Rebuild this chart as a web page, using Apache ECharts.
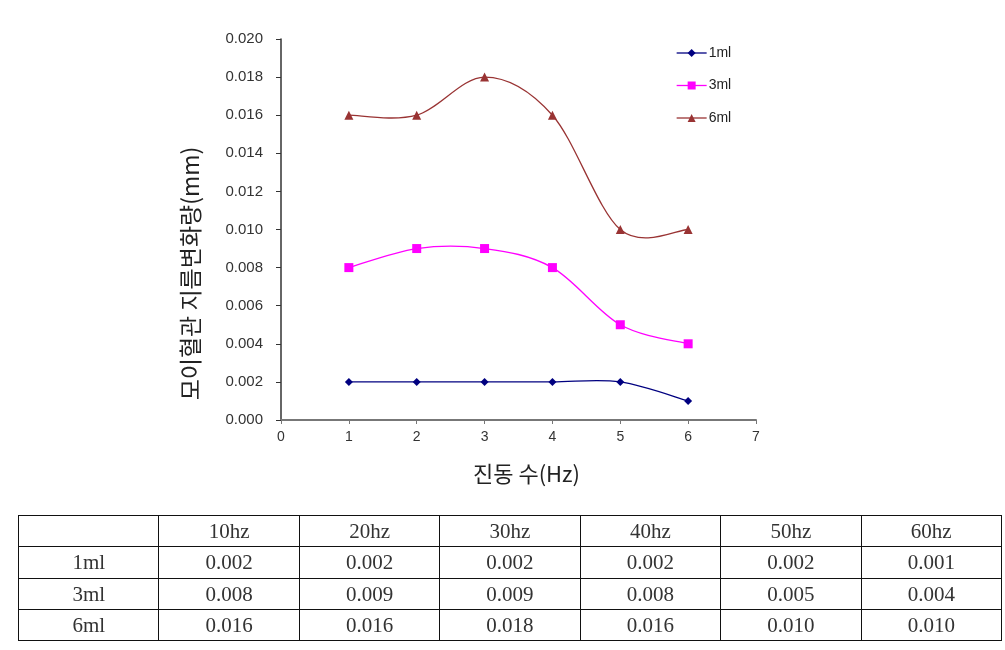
<!DOCTYPE html>
<html>
<head>
<meta charset="utf-8">
<script src="https://cdn.jsdelivr.net/npm/echarts@6/dist/echarts.min.js"></script>
<style>
html,body{margin:0;padding:0;background:#fff;}
#chart{position:absolute;left:0;top:0;width:1005px;height:650px;}
#tbl{position:absolute;left:18px;top:515px;width:984px;table-layout:fixed;border-collapse:collapse;font-family:"Liberation Serif","DejaVu Serif",serif;font-size:21px;color:#333;}
#tbl td{border:1.3px solid #111;height:30.3px;padding:0;text-align:center;line-height:28px;}
</style>
</head>
<body>
<div id="chart"></div>
<table id="tbl"></table>
<script>
const xValues = [1, 2, 3, 4, 5, 6];
const tableHeaders = ['10hz', '20hz', '30hz', '40hz', '50hz', '60hz'];
const seriesNames = ['1ml', '3ml', '6ml'];
const values1ml = [0.002, 0.002, 0.002, 0.002, 0.002, 0.001];
const values3ml = [0.008, 0.009, 0.009, 0.008, 0.005, 0.004];
const values6ml = [0.016, 0.016, 0.018, 0.016, 0.010, 0.010];
const yTicks = ['0.000','0.002','0.004','0.006','0.008','0.010','0.012','0.014','0.016','0.018','0.020'];

const allValues = [values1ml, values3ml, values6ml];
const colors = ['#000080', '#FF00FF', '#993333'];
const symbols = ['diamond', 'rect', 'triangle'];
const symbolSizes = [8, 9, 9];
const lineWidth = 1.3;

// Excel-like smoothed curve (Catmull-Rom style Bezier) drawn through the library's coordinate system
function curveSeries(i) {
  const vals = allValues[i];
  return {
    type: 'custom',
    silent: true,
    z: 1,
    data: xValues.map(function (x, j) { return [x, vals[j]]; }),
    renderItem: function (params, api) {
      const j = params.dataIndex;
      const n = xValues.length;
      if (j >= n - 1) return null;
      const pt = function (k) {
        k = Math.max(0, Math.min(n - 1, k));
        return api.coord([xValues[k], vals[k]]);
      };
      const p0 = pt(j - 1), p1 = pt(j), p2 = pt(j + 1), p3 = pt(j + 2);
      const t = 1 / 6;
      return {
        type: 'bezierCurve',
        shape: {
          x1: p1[0], y1: p1[1], x2: p2[0], y2: p2[1],
          cpx1: p1[0] + (p2[0] - p0[0]) * t, cpy1: p1[1] + (p2[1] - p0[1]) * t,
          cpx2: p2[0] - (p3[0] - p1[0]) * t, cpy2: p2[1] - (p3[1] - p1[1]) * t
        },
        style: { stroke: colors[i], lineWidth: lineWidth, fill: null }
      };
    }
  };
}

const chart = echarts.init(document.getElementById('chart'));
chart.setOption({
  animation: false,
  backgroundColor: '#fff',
  grid: { left: 281, right: 249, top: 39, bottom: 230 },
  legend: {
    orient: 'vertical',
    left: 671,
    top: 41,
    itemGap: 18.5,
    itemWidth: 30,
    itemHeight: 10,
    textStyle: { fontFamily: 'Liberation Sans, Arial', fontSize: 14, color: '#222', padding: [0, 0, 0, -3] },
    data: seriesNames.map(function (name, i) {
      return { name: name, lineStyle: { color: colors[i], width: lineWidth, opacity: 1 } };
    })
  },
  xAxis: {
    type: 'value', min: 0, max: 7, interval: 1,
    name: '진동 수(Hz)', nameLocation: 'middle', nameGap: 43,
    nameTextStyle: { fontFamily: 'Noto Sans CJK KR', fontSize: 22, color: '#222', padding: [0, 0, 0, 16] },
    axisLine: { lineStyle: { color: '#777', width: 2 } },
    axisTick: { show: true, inside: false, length: 4, lineStyle: { color: '#777' } },
    axisLabel: { fontFamily: 'Liberation Sans, Arial', fontSize: 14, color: '#333', margin: 10 },
    splitLine: { show: false }
  },
  yAxis: {
    type: 'value', min: 0, max: 0.02, interval: 0.002,
    name: '모이혈관 지름변화량(mm)', nameLocation: 'middle', nameGap: 79,
    nameTextStyle: { fontFamily: 'Noto Sans CJK KR', fontSize: 23, color: '#222', padding: [0, 88, 0, 0] },
    axisLine: { show: true, lineStyle: { color: '#333', width: 1.5 } },
    axisTick: { show: true, inside: false, length: 5, lineStyle: { color: '#333' } },
    axisLabel: {
      fontFamily: 'Liberation Sans, Arial', fontSize: 15, color: '#333', margin: 18,
      formatter: function (v) { return yTicks[Math.round(v / 0.002)]; }
    },
    splitLine: { show: false }
  },
  series: seriesNames.map(function (name, i) {
    return {
      name: name,
      type: 'line',
      z: 3,
      symbol: symbols[i],
      symbolSize: symbolSizes[i],
      itemStyle: { color: colors[i] },
      lineStyle: { color: colors[i], width: lineWidth, opacity: 0 },
      data: xValues.map(function (x, j) { return [x, allValues[i][j]]; })
    };
  }).concat(seriesNames.map(function (name, i) { return curveSeries(i); }))
});

// table built from the data arrays
const tbl = document.getElementById('tbl');
let html = '<tr><td></td>' + tableHeaders.map(function (h) { return '<td>' + h + '</td>'; }).join('') + '</tr>';
seriesNames.forEach(function (name, i) {
  html += '<tr><td>' + name + '</td>' + allValues[i].map(function (v) { return '<td>' + v.toFixed(3) + '</td>'; }).join('') + '</tr>';
});
tbl.innerHTML = html;
</script>
</body>
</html>
